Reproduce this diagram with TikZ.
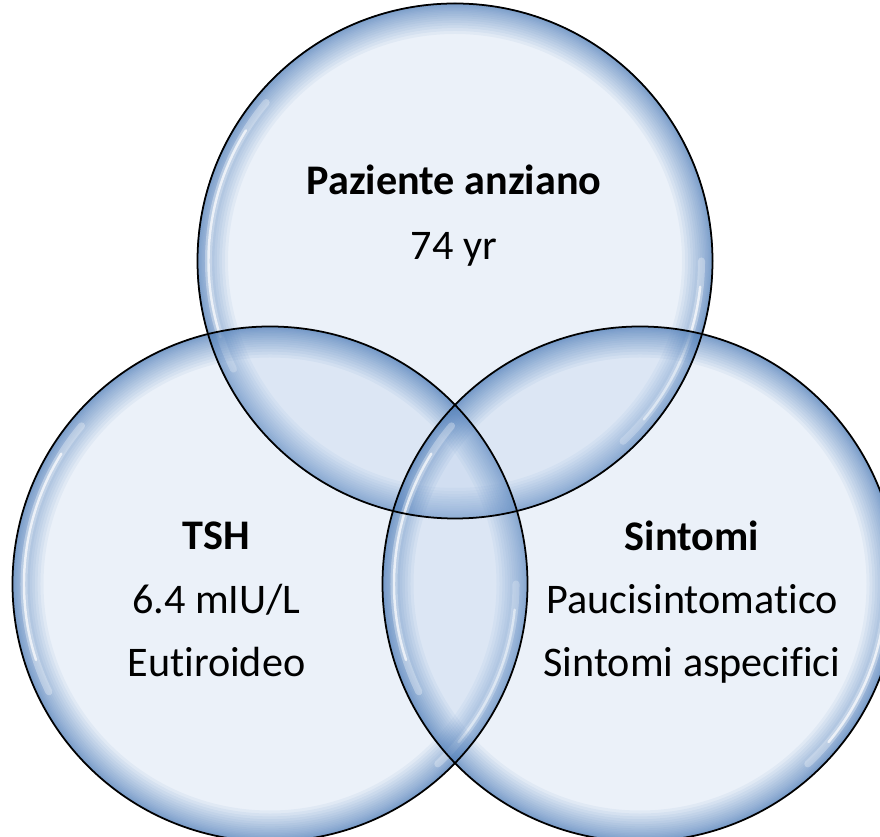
\documentclass[tikz,border=0pt]{standalone}
\usepackage{fontspec}
\setmainfont{Carlito}[Ligatures=NoCommon]

\definecolor{glassin}{RGB}{175,199,231}
\definecolor{glassrim}{RGB}{79,126,186}

% one glass ball: centre, radius
\newcommand{\glassball}[2]{%
  \fill[glassfill] (#1) circle (#2);
  % bordo sfumato: anelli sovrapposti
  \foreach \k in {1,...,20} {
    \pgfmathsetmacro{\w}{0.62*(\k/20)^2}
    \fill[glassrim, fill opacity=0.07, even odd rule] (#1) circle (#2) (#1) circle (#2-\w);
  }
  \draw[shine wide] (#1) ++(140:#2-0.23) arc[start angle=140, end angle=206, radius=#2-0.23];
  \draw[shine] (#1) ++(148:#2-0.23) arc[start angle=148, end angle=198, radius=#2-0.23];
  \draw[shine wide] (#1) ++(-47:#2-0.23) arc[start angle=-47, end angle=0, radius=#2-0.23];
  \draw[shine] (#1) ++(-40:#2-0.23) arc[start angle=-40, end angle=-6, radius=#2-0.23];
}

\begin{document}
\begin{tikzpicture}[
        glassfill/.style={fill=glassin, fill opacity=0.25},
        shine/.style={white, line width=1.4pt, opacity=0.7, line cap=round},
        shine wide/.style={white, line width=4pt, opacity=0.3, line cap=round},
        outline/.style={draw=black, line width=1pt},
        label/.style={font=\fontsize{24}{28}\selectfont, anchor=base, inner sep=0pt},
        title/.style={label, font=\fontsize{24}{28}\selectfont\bfseries}
    ]
        \useasboundingbox (0,0) rectangle (17.6,16.74);
        \clip (0,0) rectangle (17.6,16.74);

        % centri dei tre cerchi
        \coordinate (paz) at (9.10,11.52);
        \coordinate (tsh) at (5.40,5.06);
        \coordinate (sin) at (12.80,5.06);

        % cerchi
        \glassball{paz}{5.16}
        \glassball{tsh}{5.15}
        \glassball{sin}{5.15}
        \foreach \c in {paz,tsh,sin}
            \draw[outline] (\c) circle (5.15);

        % testi
        \node[title] (pazTitolo) at (9.08,12.84) {Paziente anziano};
        \node[label] (pazEta) at (9.08,11.54) {74 yr};

        \node[title] (tshTitolo) at (4.33,5.74) {TSH};
        \node[label] (tshValore) at (4.33,4.47) {6.4 mIU/L};
        \node[label] (tshStato) at (4.33,3.20) {Eutiroideo};

        \node[title] (sinTitolo) at (13.84,5.73) {Sintomi};
        \node[label] (sinPauci) at (13.84,4.46) {Paucisintomatico};
        \node[label] (sinAspec) at (13.84,3.20) {Sintomi aspecifici};
    \end{tikzpicture}
\end{document}
